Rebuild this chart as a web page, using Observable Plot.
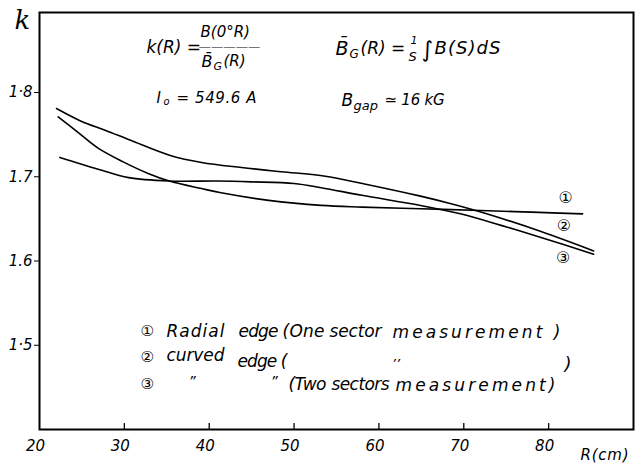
<!DOCTYPE html>
<html><head><meta charset="utf-8">
<script src="https://cdn.jsdelivr.net/npm/d3@7"></script>
<script src="https://cdn.jsdelivr.net/npm/@observablehq/plot@0.6"></script>
<style>
html,body{margin:0;padding:0;background:#fff;}
#chart svg{display:block;font-family:"DejaVu Sans","Noto Sans CJK SC",sans-serif;}
</style></head><body><div id="chart"></div>
<script>
// Curve ① radial edge (one sector measurement): R (cm) and k
const radiusRadialOne = [22.2, 24.5, 26.9, 29.8, 32.8, 35.3, 39.1, 41.4, 47.0, 53.2, 58.0, 64.9, 72.0, 78.0, 84.0];
const kRadialOne      = [1.771, 1.753, 1.734, 1.718, 1.704, 1.695, 1.686, 1.681, 1.672, 1.666, 1.664, 1.662, 1.660, 1.658, 1.656];
// Curve ② curved edge (one sector measurement)
const radiusCurvedOne = [22.0, 24.9, 27.8, 30.8, 35.5, 39.1, 43.8, 48.5, 53.5, 59.0, 64.9, 68.5, 72.4, 79.1, 85.3];
const kCurvedOne      = [1.781, 1.766, 1.755, 1.743, 1.725, 1.717, 1.711, 1.706, 1.701, 1.690, 1.677, 1.668, 1.657, 1.635, 1.612];
// Curve ③ curved edge (two sectors measurement)
const radiusCurvedTwo = [22.4, 26.9, 30.5, 35.3, 41.0, 45.0, 50.0, 53.2, 58.0, 64.9, 69.6, 74.5, 79.1, 85.3];
const kCurvedTwo      = [1.723, 1.709, 1.699, 1.695, 1.695, 1.694, 1.692, 1.687, 1.678, 1.666, 1.656, 1.642, 1.628, 1.608];

const curveIds = ["1", "2", "3"];
const curveMarkers = ["①", "②", "③"];
const curveMarkerR = [82.0, 81.8, 81.7];
const curveMarkerK = [1.675, 1.642, 1.604];

const xTickValues = [30, 40, 50, 60, 70, 80];
const xLabelValues = [20, 30, 40, 50, 60, 70, 80];
const xLabelTexts = ["20", "30", "40", "50", "60", "70", "80"];
const yTickValues = [1.5, 1.6, 1.7, 1.8];
const yLabelTexts = ["1·5", "1.6", "1.7", "1·8"];

const rows = [
  ...radiusRadialOne.map((r, i) => ({R: r, k: kRadialOne[i], curve: curveIds[0]})),
  ...radiusCurvedOne.map((r, i) => ({R: r, k: kCurvedOne[i], curve: curveIds[1]})),
  ...radiusCurvedTwo.map((r, i) => ({R: r, k: kCurvedTwo[i], curve: curveIds[2]}))
];

const ML = 39, MT = 12;
const widths = new Map();
function note(str, X, Y, size, opts = {}, w = null) {
  if (w) widths.set(str, w);
  return Plot.text([str], {
    frameAnchor: "top-left", dx: X - ML, dy: Y - MT, text: d => d,
    fontSize: size, textAnchor: "start", lineAnchor: "middle",
    fontStyle: "italic", fill: "#000", ...opts
  });
}

const chart = Plot.plot({
  width: 641, height: 466,
  marginLeft: ML, marginRight: 8, marginTop: MT, marginBottom: 37,
  style: {background: "#fff", overflow: "visible"},
  x: {domain: [20, 90]},
  y: {domain: [1.4, 1.895]},
  marks: [
    Plot.frame({stroke: "#000", strokeWidth: 2}),
    Plot.ruleX(xTickValues, {x: d => d, y1: 1.4, y2: 1.407, stroke: "#000", strokeWidth: 1.3}),
    Plot.axisX({ticks: xLabelValues, tickSize: 0, tickPadding: 11, dx: -4, fontSize: 15, fontStyle: "italic",
      label: null, tickFormat: d => xLabelTexts[xLabelValues.indexOf(d)]}),
    Plot.axisY({ticks: yTickValues, tickSize: 5, tickPadding: 2, fontSize: 15, fontStyle: "italic",
      label: null, tickFormat: d => yLabelTexts[yTickValues.indexOf(d)]}),
    Plot.line(rows, {x: "R", y: "k", z: "curve", curve: "catmull-rom", stroke: "#000", strokeWidth: 1.6}),
    Plot.text(curveMarkers, {x: (d, i) => curveMarkerR[i], y: (d, i) => curveMarkerK[i], text: d => d, fontSize: 16, fill: "#000"}),
    // y-axis symbol
    note("k", 14, 20, 26, {fontFamily: "DejaVu Serif"}),
    // k(R) = B(0°R) / B̄G(R)
    note("k(R) =", 146, 47, 17),
    note("B(0°R)", 200, 32, 15),
    note("—————", 198, 47, 8, {fontStyle: "normal"}, 62),
    note("B̄", 201, 61, 16),
    note("G", 213, 66, 11),
    note("(R)", 223, 61, 15),
    // B̄G(R) = 1/S ∫ B(S) dS
    note("B̄", 335, 48, 19),
    note("G", 349, 54, 12),
    note("(R) =", 360, 48, 17),
    note("1", 410, 40, 11),
    note("S", 408, 56, 13),
    note("∫", 421, 49, 22, {fontStyle: "normal"}),
    note("B(S)dS", 434, 48, 18, {}, 66),
    // I0 and Bgap
    note("I", 156, 98, 15),
    note("o", 163, 101, 10),
    note("= 549.6 A", 176, 98, 15, {}, 80),
    note("B", 341, 100, 17),
    note("gap", 353, 105, 13),
    note("≃ 16 kG", 384, 100, 15, {}, 60),
    // legend
    note("①", 140, 331, 15, {fontStyle: "normal"}),
    note("Radial", 166, 331, 17, {}, 58),
    note("edge", 238, 331, 17, {}, 40),
    note("(One", 282, 331, 17, {}, 42),
    note("sector", 329, 331, 17, {}, 52),
    note("measurement )", 392, 332, 17, {}, 168),
    note("②", 140, 357, 15, {fontStyle: "normal"}),
    note("curved", 166, 355, 17, {}, 58),
    note("edge (", 237, 361, 17, {}, 50),
    note(",,", 393, 356, 13),
    note(")", 564, 364, 18),
    note("③", 140, 384, 15, {fontStyle: "normal"}),
    note("\u201d", 188, 381, 14),
    note("\u201d ", 270, 381, 14),
    note("(Two", 288, 384, 17, {}, 38),
    note("sectors", 331, 384, 17, {}, 58),
    note("measurement)", 395, 385, 17, {}, 160),
    // axis title
    note("R(cm)", 580, 455, 15, {}, 48)
  ]
});

// stretch the handwritten-looking annotations to their measured widths
chart.querySelectorAll("text").forEach(t => {
  const s = t.textContent;
  if (widths.has(s)) {
    t.setAttribute("textLength", widths.get(s));
    t.setAttribute("lengthAdjust", s.startsWith("—") ? "spacingAndGlyphs" : "spacing");
  }
});
document.getElementById("chart").appendChild(chart);
</script>
</body></html>
